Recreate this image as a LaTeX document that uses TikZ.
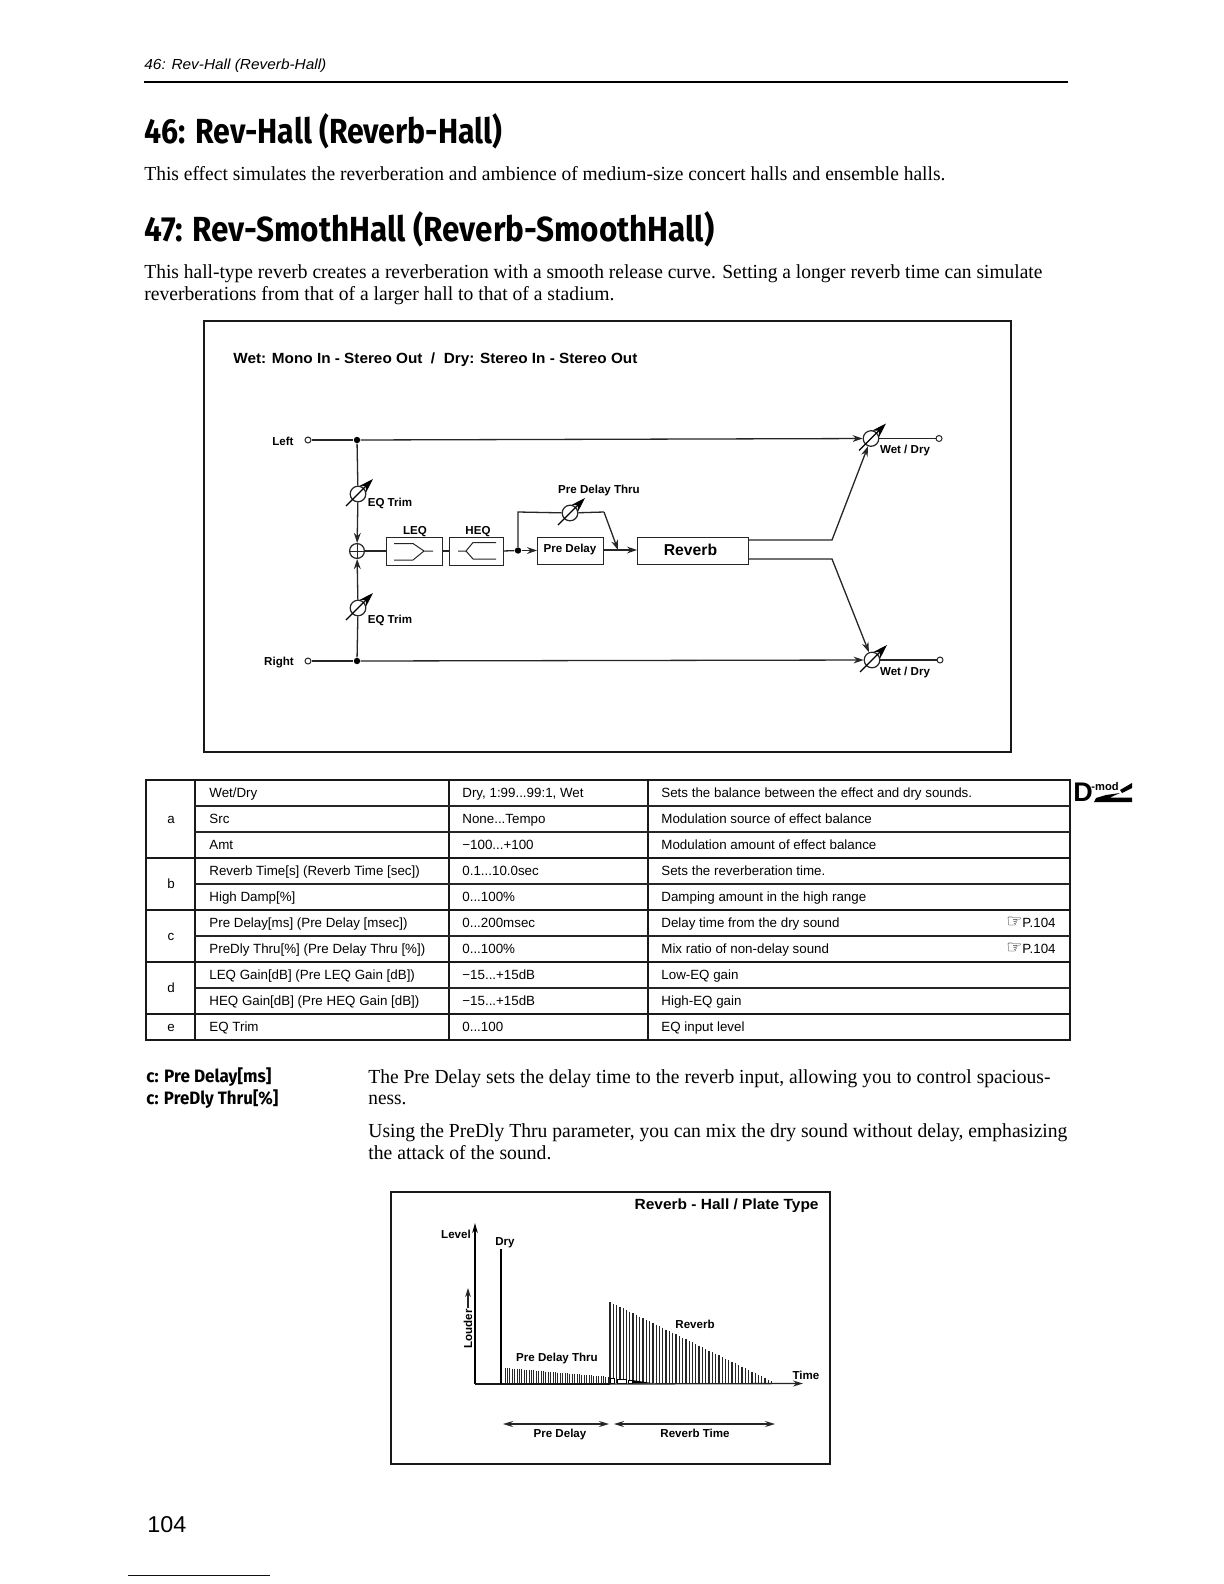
\documentclass[tikz,border=0pt]{standalone}
\usepackage{graphicx}
\usepackage{fontspec}
\setmainfont{Liberation Serif}
\setsansfont{Liberation Sans}
\newfontfamily\headf{Fira Sans}
\newfontfamily\symf{DejaVu Sans}
\usetikzlibrary{arrows.meta,calc}
\newlength\pxu \setlength{\pxu}{0.5bp}
\newcommand\fw[2]{\resizebox{#1\pxu}{\height}{#2}}
\tikzset{
  x=0.5bp,y=-0.5bp,
  ln/.style={line width=0.65bp,black!85},
  fr/.style={line width=0.95bp,black!90},
  arr/.style={ln,-{Stealth[length=5bp,width=3.4bp]}},
  darr/.style={ln,{Stealth[length=5bp,width=3bp]}-{Stealth[length=5bp,width=3bp]}},
  pot/.style={circle,draw=black!85,line width=0.6bp,minimum size=7.8bp,inner sep=0,fill=white},
  dot/.style={circle,fill=black,minimum size=3.2bp,inner sep=0},
  port/.style={circle,draw=black!85,line width=0.5bp,minimum size=3bp,inner sep=0,fill=white},
  box/.style={draw=black!85,line width=0.6bp,inner sep=0,anchor=north west,fill=white},
  lab/.style={font=\sffamily\bfseries\fontsize{5.8}{7}\selectfont,inner sep=0},
  body/.style={font=\rmfamily\fontsize{10}{12}\selectfont,inner sep=0,anchor=west},
  head/.style={font=\headf\bfseries\fontsize{17.5}{22}\selectfont,inner sep=0,anchor=west},
  side/.style={font=\headf\bfseries\fontsize{9}{12}\selectfont,inner sep=0,anchor=west},
  cell/.style={font=\sffamily\fontsize{6.7}{8}\selectfont,inner sep=0,anchor=west,text height=6bp,text depth=1.2bp},
  knob/.style={line width=0.6bp,black,-{Stealth[length=7.5bp,width=4.8bp]}},
}
\newcommand\potmark[1]{\draw[knob] ($(#1)+(-12,12)$) -- ($(#1)+(15,-15)$);}
\begin{document}
\begin{tikzpicture}
\useasboundingbox (0,0) rectangle (1224,1584);
\fill[white] (0,0) rectangle (1224,1584);
% page header
\node[anchor=west,inner sep=0,font=\sffamily\itshape\fontsize{7.3}{9}\selectfont] (hdr) at (144,65.5) {\fw{182}{46: Rev-Hall (Reverb-Hall)}};
\draw[line width=1.1bp] (144,82) -- (1068,82);
\node[head] (h1) at (144,131) {\fw{358}{46: Rev-Hall (Reverb-Hall)}};
\node[body] (p1) at (144,173.5) {\fw{801}{This effect simulates the reverberation and ambience of medium-size concert halls and ensemble halls.}};
\node[head] (h2) at (144,229) {\fw{570}{47: Rev-SmothHall (Reverb-SmoothHall)}};
\node[body] (p2a) at (144,273.5) {\fw{898}{This hall-type reverb creates a reverberation with a smooth release curve. Setting a longer reverb time can simulate}};
\node[body] (p2b) at (144,295.5) {\fw{470}{reverberations from that of a larger hall to that of a stadium.}};
% signal flow frame
\draw[fr] (204,321) rectangle (1011,752);
\node[lab,anchor=west,font=\sffamily\bfseries\fontsize{7.4}{9}\selectfont] (ttl) at (233,360) {\fw{404}{Wet: Mono In - Stereo Out\ \ /\ \ Dry: Stereo In - Stereo Out}};
\node[lab] (lL) at (283,441) {Left};
\node[lab] (lR) at (279,663) {Right};
\node[port] (inL) at (308,440) {};
\node[port] (inR) at (308,661) {};
\node[dot] (dL) at (357,440) {};
\node[dot] (dR) at (357,661) {};
\node[pot] (eqU) at (358,494) {};
\node[pot] (eqD) at (358,608) {};
\node[lab] (lEU) at (390,503.5) {EQ Trim};
\node[lab] (lED) at (390,620.5) {EQ Trim};
\node[pot,minimum size=7.4bp] (add) at (357,551) {};
\node[box,minimum width=28bp,minimum height=14bp] (leq) at (386,537) {};
\node[box,minimum width=27bp,minimum height=14bp] (heq) at (449,537) {};
\node[lab] (lLEQ) at (415,531.5) {LEQ};
\node[lab] (lHEQ) at (478,531.5) {HEQ};
\node[dot] (dM) at (518,550.5) {};
\node[box,minimum width=33bp,minimum height=13.5bp,lab] (pd) at (537,536.5) {};
\node[lab] (pdt) at (570,549.5) {Pre Delay};
\node[box,minimum width=55.5bp,minimum height=13.5bp] (rev) at (637,536.5) {};
\node[lab,font=\sffamily\bfseries\fontsize{7.9}{9}\selectfont] (revt) at (690.5,550) {Reverb};
\node[pot] (tp) at (570,513) {};
\node[lab] (lPT) at (599,491) {Pre Delay Thru};
\node[pot] (wU) at (871,438.5) {};
\node[pot] (wD) at (872,660) {};
\node[port] (oU) at (939,438.5) {};
\node[port] (oD) at (940,660) {};
\node[lab] (lWU) at (905,450.5) {Wet / Dry};
\node[lab] (lWD) at (905,673) {Wet / Dry};
\coordinate (b1) at (518,512);
\coordinate (b2) at (604,512);
\coordinate (jn) at (618,550);
\coordinate (rU1) at (748,540);
\coordinate (rU2) at (832,540);
\coordinate (rD1) at (748,559);
\coordinate (rD2) at (832,559);
\coordinate (pdR) at (603,550);
\coordinate (revL) at (637,550);
\draw[ln] (inL) -- (dL);
\draw[ln] (inR) -- (dR);
\draw[arr] (dL) -- (wU);
\draw[arr] (dR) -- (wD);
\draw[ln] (dL) -- (eqU);
\draw[ln] (dR) -- (eqD);
\draw[arr] (eqU) -- (add);
\draw[arr] (eqD) -- (add);
\draw[ln,line width=0.5bp] (add.north) -- (add.south) (add.east) -- (add.west);
\draw[ln] (add.east) -- (386,551);
\draw[ln] (442,551) -- (449,551);
\draw[ln] (503,551) -- (dM);
\draw[arr] (dM) -- (537,550.5);
\draw[ln] (dM) -- (b1) -- (tp);
\draw[ln] (tp) -- (b2);
\draw[arr] (b2) -- (jn);
\draw[arr] (pdR) -- (revL);
\draw[arr] (rU1) -- (rU2) -- (wU);
\draw[arr] (rD1) -- (rD2) -- (wD);
\draw[ln] (wU) -- (oU);
\draw[ln] (wD) -- (oD);
\potmark{eqU}\potmark{eqD}\potmark{tp}\potmark{wU}\potmark{wD}
% EQ glyphs
\draw[line width=0.5bp,black!85] (394,543.5) -- (413,543.5) -- (424,551) -- (433,551) (394,560) -- (413,560) -- (424,551);
\draw[line width=0.5bp,black!85] (458,551) -- (466,551) -- (473,542.5) -- (496,542.5) (466,551) -- (473,559) -- (496,559);
% table
\draw[fr] (146,780) rectangle (1070,1040);
\foreach \x in {195,449,648} \draw[fr] (\x,780) -- (\x,1040);
\foreach \y in {806,832,884,936,988} \draw[ln] (195,\y) -- (1070,\y);
\foreach \y in {858,910,962,1014} \draw[fr] (146,\y) -- (1070,\y);
\node[cell,anchor=center] (ka) at (171,819) {a};
\node[cell,anchor=center] (kb) at (171,884) {b};
\node[cell,anchor=center] (kc) at (171,936) {c};
\node[cell,anchor=center] (kd) at (171,988) {d};
\node[cell,anchor=center] (ke) at (171,1027) {e};
\node[cell] (c11) at (209,793) {Wet/Dry};
\node[cell] (c21) at (209,819) {Src};
\node[cell] (c31) at (209,845) {Amt};
\node[cell] (c41) at (209,871) {Reverb Time[s] (Reverb Time [sec])};
\node[cell] (c51) at (209,897) {High Damp[\%]};
\node[cell] (c61) at (209,923) {Pre Delay[ms] (Pre Delay [msec])};
\node[cell] (c71) at (209,949) {PreDly Thru[\%] (Pre Delay Thru [\%])};
\node[cell] (c81) at (209,975) {LEQ Gain[dB] (Pre LEQ Gain [dB])};
\node[cell] (c91) at (209,1001) {HEQ Gain[dB] (Pre HEQ Gain [dB])};
\node[cell] (c01) at (209,1027) {EQ Trim};
\node[cell] (c12) at (462,793) {Dry, 1:99...99:1, Wet};
\node[cell] (c22) at (462,819) {None...Tempo};
\node[cell] (c32) at (462,845) {−100...+100};
\node[cell] (c42) at (462,871) {0.1...10.0sec};
\node[cell] (c52) at (462,897) {0...100\%};
\node[cell] (c62) at (462,923) {0...200msec};
\node[cell] (c72) at (462,949) {0...100\%};
\node[cell] (c82) at (462,975) {−15...+15dB};
\node[cell] (c92) at (462,1001) {−15...+15dB};
\node[cell] (c02) at (462,1027) {0...100};
\node[cell] (c13) at (661,793) {Sets the balance between the effect and dry sounds.};
\node[cell] (c23) at (661,819) {Modulation source of effect balance};
\node[cell] (c33) at (661,845) {Modulation amount of effect balance};
\node[cell] (c43) at (661,871) {Sets the reverberation time.};
\node[cell] (c53) at (661,897) {Damping amount in the high range};
\node[cell] (c63) at (661,923) {Delay time from the dry sound};
\node[cell] (c73) at (661,949) {Mix ratio of non-delay sound};
\node[cell] (c83) at (661,975) {Low-EQ gain};
\node[cell] (c93) at (661,1001) {High-EQ gain};
\node[cell] (c03) at (661,1027) {EQ input level};
\node[cell,anchor=east] (r6) at (1056,923) {{\symf\bfseries\fontsize{9}{9}\selectfont ☞}P.104};
\node[cell,anchor=east] (r7) at (1056,949) {{\symf\bfseries\fontsize{9}{9}\selectfont ☞}P.104};
% D-mod logo
\node[inner sep=0,font=\sffamily\bfseries\fontsize{13.5}{15}\selectfont] (dlogo) at (1083,792.5) {D};
\node[inner sep=0,font=\sffamily\bfseries\fontsize{5.6}{6}\selectfont] (mlogo) at (1105,787) {-mod};
\fill[black] (1094,802) -- (1132,802) -- (1132,797.5) -- (1110,797.5) -- (1120,793) -- (1106,795) -- (1096,798) -- cycle;
\fill[black] (1120,790) -- (1132,783) -- (1132,788) -- (1122,793) -- cycle;
% side notes
\node[side] (s1) at (146,1077) {\fw{125}{c: Pre Delay[ms]}};
\node[side] (s2) at (146,1099) {\fw{132}{c: PreDly Thru[\%]}};
\node[body] (p3a) at (368,1079) {\fw{682}{The Pre Delay sets the delay time to the reverb input, allowing you to control spacious-}};
\node[body] (p3b) at (368,1100) {\fw{38}{ness.}};
\node[body] (p4a) at (368,1133) {\fw{699}{Using the PreDly Thru parameter, you can mix the dry sound without delay, emphasizing}};
\node[body] (p4b) at (368,1153) {\fw{183}{the attack of the sound.}};
% reverb graph
\draw[fr] (391,1192) rectangle (830,1464);
\node[lab,anchor=east,font=\sffamily\bfseries\fontsize{7.4}{9}\selectfont] (gt) at (819,1205.5) {\fw{184}{Reverb - Hall / Plate Type}};
\foreach \i in {0,...,43} {
  \pgfmathsetmacro\bx{505+2.4*\i}
  \pgfmathsetmacro\by{1368+(\bx-505)*0.086}
  \draw[line width=0.5bp,black!85] (\bx,\by) -- (\bx,1383);
}
\foreach \i in {0,...,49} {
  \pgfmathsetmacro\bx{610+3.3*\i}
  \pgfmathsetmacro\by{1302+(\bx-610)*0.49}
  \draw[line width=0.65bp,black!85] (\bx,\by) -- (\bx,1383);
}
\draw[line width=0.35bp,fill=white] (610,1378) rectangle (614,1383) (617,1379) rectangle (626,1383) (628,1380) rectangle (632,1383);
\fill (632,1380) -- (655,1383.5) -- (632,1383.5) -- cycle;
\coordinate (o) at (475,1384);
\coordinate (yt) at (475,1223);
\coordinate (xt) at (803,1383.5);
\coordinate (dryB) at (501,1384);
\coordinate (dryT) at (501,1249);
\coordinate (louA) at (468,1308);
\coordinate (louB) at (468,1288);
\coordinate (a1) at (503,1424);
\coordinate (a2) at (609,1424);
\coordinate (a3) at (614,1424);
\coordinate (a4) at (775,1424);
\draw[line width=0.75bp,-{Stealth[length=5bp,width=2.8bp]}] (o) -- (yt);
\draw[line width=0.75bp,black!90] (o) -- (610,1384);
\draw[ln,-{Stealth[length=5bp,width=3bp]}] (610,1384) -- (xt);
\draw[line width=1.1bp] (dryB) -- (dryT);
\draw[ln,-{Stealth[length=4.5bp,width=2.8bp]}] (louA) -- (louB);
\draw[darr] (a1) -- (a2);
\draw[darr] (a3) -- (a4);
\node[lab] (gl) at (456,1234) {Level};
\node[lab] (gd) at (505,1243) {Dry};
\node[lab,rotate=90] (glo) at (468,1329) {Louder};
\node[lab] (gr) at (695,1324) {Reverb};
\node[lab] (gp) at (557,1358) {Pre Delay Thru};
\node[lab] (gti) at (806,1375) {Time};
\node[lab] (gpd) at (560,1434) {Pre Delay};
\node[lab] (grt) at (695,1433) {Reverb Time};
% folio
\node[inner sep=0,anchor=west,font=\sffamily\fontsize{11.5}{13}\selectfont] (folio) at (147,1525) {\fw{39}{104}};
\draw[line width=0.5bp,blue!60!black] (128,1575) -- (270,1575);
\end{tikzpicture}
\end{document}
